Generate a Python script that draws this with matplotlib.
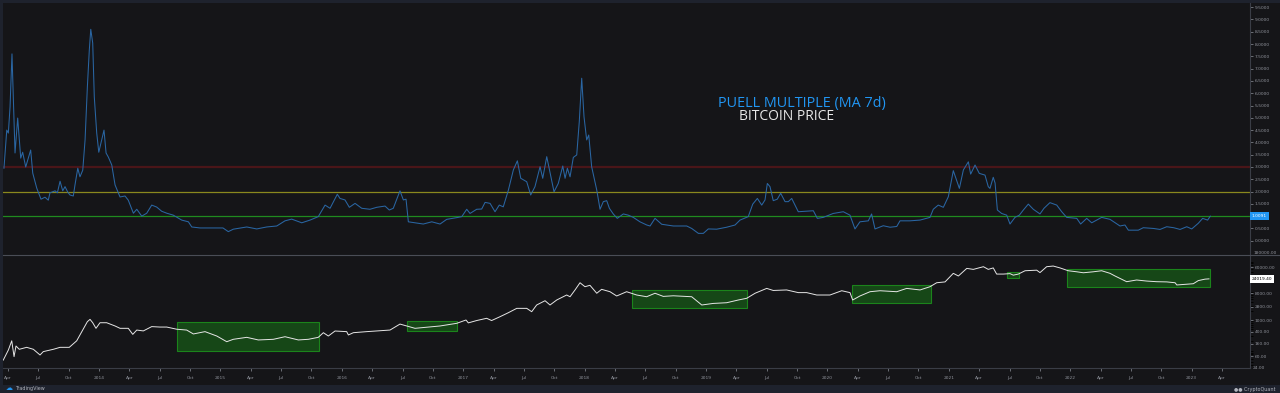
import matplotlib.pyplot as plt
from matplotlib.patches import Rectangle
from matplotlib.lines import Line2D
from matplotlib.ticker import FixedLocator, FixedFormatter, NullLocator

# puell multiple (ma 7d), time in decimal years
puell_t = [2013.217, 2013.240, 2013.253, 2013.267, 2013.283, 2013.308, 2013.330, 2013.355, 2013.371, 2013.396,
           2013.437, 2013.454, 2013.487, 2013.522, 2013.555, 2013.582, 2013.596, 2013.638, 2013.657, 2013.679,
           2013.701, 2013.720, 2013.742, 2013.761, 2013.788, 2013.802, 2013.825, 2013.843, 2013.866, 2013.885,
           2013.904, 2013.920, 2013.932, 2013.948, 2013.961, 2013.981, 2013.998, 2014.016, 2014.041, 2014.058,
           2014.077, 2014.105, 2014.132, 2014.173, 2014.214, 2014.241, 2014.283, 2014.311, 2014.352, 2014.393,
           2014.434, 2014.475, 2014.516, 2014.558, 2014.612, 2014.681, 2014.736, 2014.764, 2014.832, 2014.942,
           2015.021, 2015.065, 2015.106, 2015.217, 2015.299, 2015.381, 2015.464, 2015.532, 2015.587, 2015.670,
           2015.738, 2015.806, 2015.862, 2015.903, 2015.963, 2015.985, 2016.026, 2016.062, 2016.109, 2016.164,
           2016.232, 2016.288, 2016.356, 2016.391, 2016.424, 2016.479, 2016.507, 2016.529, 2016.548, 2016.603,
           2016.671, 2016.741, 2016.809, 2016.864, 2016.947, 2016.988, 2017.029, 2017.056, 2017.111, 2017.152,
           2017.180, 2017.221, 2017.262, 2017.297, 2017.330, 2017.372, 2017.413, 2017.446, 2017.474, 2017.523,
           2017.556, 2017.591, 2017.633, 2017.655, 2017.688, 2017.748, 2017.783, 2017.820, 2017.839, 2017.858,
           2017.880, 2017.907, 2017.935, 2017.956, 2017.976, 2017.995, 2018.017, 2018.034, 2018.058, 2018.100,
           2018.127, 2018.154, 2018.182, 2018.204, 2018.236, 2018.269, 2018.319, 2018.360, 2018.401, 2018.456,
           2018.512, 2018.539, 2018.580, 2018.635, 2018.731, 2018.841, 2018.882, 2018.937, 2018.978, 2019.019,
           2019.088, 2019.170, 2019.239, 2019.280, 2019.348, 2019.385, 2019.423, 2019.459, 2019.486, 2019.505,
           2019.527, 2019.554, 2019.587, 2019.615, 2019.651, 2019.678, 2019.706, 2019.760, 2019.816, 2019.884,
           2019.917, 2019.966, 2020.048, 2020.131, 2020.186, 2020.227, 2020.268, 2020.337, 2020.364, 2020.392,
           2020.460, 2020.516, 2020.571, 2020.598, 2020.680, 2020.763, 2020.845, 2020.872, 2020.913, 2020.955,
           2020.996, 2021.037, 2021.087, 2021.120, 2021.161, 2021.180, 2021.216, 2021.251, 2021.298, 2021.325,
           2021.339, 2021.366, 2021.381, 2021.400, 2021.435, 2021.477, 2021.504, 2021.545, 2021.581, 2021.614,
           2021.655, 2021.696, 2021.751, 2021.784, 2021.833, 2021.889, 2021.930, 2021.971, 2022.054, 2022.086,
           2022.136, 2022.177, 2022.259, 2022.328, 2022.410, 2022.451, 2022.479, 2022.561, 2022.602, 2022.685,
           2022.740, 2022.795, 2022.852, 2022.905, 2022.960, 2023.001, 2023.055, 2023.091, 2023.132, 2023.154]
puell_v = [2.95, 4.50, 4.38, 5.44, 7.60, 3.57, 4.99, 3.36, 3.60, 3.00,
           3.69, 2.75, 2.14, 1.69, 1.77, 1.65, 1.95, 2.03, 1.95, 2.42,
           2.03, 2.20, 1.98, 1.86, 1.82, 2.27, 2.95, 2.60, 2.87, 4.10,
           6.26, 7.76, 8.60, 8.04, 5.85, 4.38, 3.60, 3.97, 4.50, 3.57,
           3.40, 3.08, 2.27, 1.78, 1.82, 1.65, 1.12, 1.28, 1.00, 1.12,
           1.45, 1.37, 1.20, 1.12, 1.04, 0.84, 0.77, 0.56, 0.52, 0.52,
           0.52, 0.37, 0.47, 0.56, 0.48, 0.56, 0.60, 0.81, 0.88, 0.73,
           0.84, 0.98, 1.45, 1.32, 1.89, 1.72, 1.66, 1.36, 1.52, 1.32,
           1.28, 1.36, 1.41, 1.25, 1.32, 2.03, 1.66, 1.69, 0.77, 0.73,
           0.68, 0.77, 0.68, 0.87, 0.94, 0.98, 1.28, 1.11, 1.28, 1.29,
           1.56, 1.52, 1.18, 1.45, 1.38, 2.06, 2.88, 3.25, 2.54, 2.40,
           1.86, 2.20, 3.01, 2.54, 3.42, 1.99, 2.33, 3.04, 2.54, 2.95,
           2.60, 3.39, 3.49, 4.84, 6.61, 5.04, 4.10, 4.30, 3.01, 2.06,
           1.28, 1.59, 1.63, 1.32, 1.09, 0.91, 1.09, 1.04, 0.95, 0.77,
           0.64, 0.60, 0.91, 0.67, 0.60, 0.60, 0.50, 0.30, 0.30, 0.48,
           0.47, 0.55, 0.64, 0.84, 0.98, 1.49, 1.72, 1.45, 1.66, 2.33,
           2.20, 1.63, 1.69, 1.93, 1.59, 1.59, 1.72, 1.18, 1.20, 1.22,
           0.91, 0.95, 1.11, 1.18, 1.04, 0.48, 0.77, 0.81, 1.09, 0.48,
           0.61, 0.55, 0.58, 0.81, 0.81, 0.84, 0.95, 1.28, 1.45, 1.36,
           1.79, 2.85, 2.13, 2.88, 3.21, 2.71, 3.08, 2.74, 2.67, 2.20,
           2.13, 2.58, 2.35, 1.25, 1.11, 1.04, 0.68, 0.95, 1.04, 1.25,
           1.49, 1.28, 1.09, 1.32, 1.55, 1.45, 1.18, 0.95, 0.91, 0.68,
           0.91, 0.73, 0.95, 0.87, 0.60, 0.64, 0.43, 0.43, 0.53, 0.50,
           0.46, 0.57, 0.53, 0.46, 0.57, 0.48, 0.71, 0.91, 0.84, 1.00]

# bitcoin price (usd, log scale)
price_t = [2013.211, 2013.253, 2013.281, 2013.300, 2013.316, 2013.343, 2013.404, 2013.459, 2013.514, 2013.541,
           2013.624, 2013.679, 2013.755, 2013.816, 2013.866, 2013.904, 2013.926, 2013.948, 2013.975, 2014.008,
           2014.063, 2014.132, 2014.173, 2014.241, 2014.278, 2014.311, 2014.365, 2014.434, 2014.502, 2014.558,
           2014.640, 2014.722, 2014.777, 2014.873, 2014.970, 2015.052, 2015.106, 2015.217, 2015.312, 2015.436,
           2015.532, 2015.642, 2015.724, 2015.806, 2015.848, 2015.889, 2015.944, 2016.040, 2016.054, 2016.095,
           2016.205, 2016.397, 2016.479, 2016.535, 2016.603, 2016.699, 2016.809, 2016.947, 2017.023, 2017.042,
           2017.111, 2017.193, 2017.234, 2017.303, 2017.372, 2017.441, 2017.523, 2017.564, 2017.605, 2017.674,
           2017.715, 2017.770, 2017.852, 2017.880, 2017.921, 2017.962, 2018.003, 2018.044, 2018.100, 2018.140,
           2018.209, 2018.264, 2018.346, 2018.429, 2018.511, 2018.580, 2018.648, 2018.731, 2018.882, 2018.965,
           2019.060, 2019.170, 2019.266, 2019.335, 2019.404, 2019.500, 2019.554, 2019.664, 2019.760, 2019.829,
           2019.912, 2020.021, 2020.118, 2020.186, 2020.208, 2020.268, 2020.351, 2020.433, 2020.571, 2020.653,
           2020.763, 2020.845, 2020.900, 2020.969, 2021.037, 2021.079, 2021.148, 2021.202, 2021.285, 2021.325,
           2021.366, 2021.394, 2021.449, 2021.504, 2021.531, 2021.573, 2021.628, 2021.724, 2021.751, 2021.806,
           2021.860, 2021.916, 2021.984, 2022.054, 2022.108, 2022.190, 2022.259, 2022.328, 2022.369, 2022.465,
           2022.547, 2022.629, 2022.712, 2022.795, 2022.864, 2022.878, 2023.014, 2023.055, 2023.110, 2023.143]
price_v = [45, 98, 200, 59, 134, 104, 121, 104, 67, 87,
           104, 121, 121, 200, 460, 880, 1050, 810, 526, 810,
           810, 630, 526, 526, 330, 460, 430, 600, 580, 580,
           490, 460, 340, 407, 290, 187, 225, 262, 214, 225,
           275, 214, 225, 262, 375, 290, 427, 407, 315, 375,
           407, 460, 730, 630, 526, 570, 630, 775, 1000, 800,
           960, 1140, 960, 1290, 1760, 2460, 2460, 1900, 3190, 4440,
           3190, 4690, 6900, 6040, 10200, 17800, 13100, 14600, 7900, 10700,
           8900, 6400, 8900, 6900, 6040, 7900, 6200, 6500, 6040, 3190,
           3600, 3800, 4690, 5350, 7900, 11500, 9800, 10200, 8300, 8300,
           6900, 6900, 9600, 8300, 4690, 6400, 8900, 9600, 8900, 11500,
           10200, 13100, 17800, 19000, 36800, 30000, 54000, 50000, 61500, 50000,
           56000, 34800, 34800, 36000, 32000, 34800, 45000, 47000, 39000, 61500,
           64700, 56000, 45000, 41500, 38500, 41500, 45000, 36800, 30000, 19300,
           22000, 20300, 19300, 19000, 17800, 15000, 16500, 21000, 23500, 24019.40]

# accumulation boxes on the price pane
box_start = [2014.64, 2016.54, 2018.39, 2020.20, 2021.48, 2021.97]
box_end = [2015.815, 2016.95, 2019.34, 2020.85, 2021.575, 2023.15]
box_low = [91, 416, 2470, 3800, 25000, 12500]
box_high = [837, 904, 9900, 14900, 39800, 50400]

# reference levels of the puell multiple
levels = [3.0, 2.0, 1.0]
level_colors = ['#4a1518', '#8a881e', '#1f8a1f']
level_widths = [1.6, 0.9, 0.9]

# 1.0000 sits under the last-value tag, so it is left out
puell_ticks = [0.0, 0.5, 1.5, 2.0, 2.5, 3.0, 3.5, 4.0, 4.5, 5.0,
               5.5, 6.0, 6.5, 7.0, 7.5, 8.0, 8.5, 9.0, 9.5]
price_ticks = [60, 160, 400, 1000, 2800, 8000, 60000]
price_edge_ticks = [24, 180000]
puell_last = 1.0091
price_last = 24019.40

BG_OUT = '#1e222d'
BG = '#151518'
AXIS = '#3a3d46'
TXT = '#8f929b'


def time_ticks():
    pos, lab = [], []
    for y in range(2013, 2024):
        for off, name in [(0.0, str(y)), (0.25, 'Apr'), (0.5, 'Jul'), (0.75, 'Oct')]:
            t = y + off
            if 2013.2 < t < 2023.3:
                pos.append(t)
                lab.append(name)
    return pos, lab


def style_axis(ax):
    ax.set_facecolor(BG)
    for s in ['top', 'left', 'bottom']:
        ax.spines[s].set_visible(False)
    ax.spines['right'].set_color(AXIS)
    ax.spines['right'].set_linewidth(0.8)
    ax.yaxis.tick_right()
    ax.tick_params(axis='y', colors=TXT, labelsize=3.2, length=2, width=0.5, pad=1.5)
    ax.yaxis.set_minor_locator(NullLocator())
    ax.set_xlim(2013.209, 2023.481)


def main():
    fig = plt.figure(figsize=(12.8, 3.93), dpi=100, facecolor=BG_OUT)
    W, H = 1280, 393
    # dark chart panel
    fig.add_artist(Rectangle((3 / W, 8 / H), 1 - 3 / W, (H - 11) / H, transform=fig.transFigure,
                             facecolor=BG, edgecolor='none', zorder=0))

    ax1 = fig.add_axes([3 / W, 1 - 255 / H, 1247 / W, 252 / H])
    ax2 = fig.add_axes([3 / W, 1 - 368 / H, 1247 / W, 112 / H])
    style_axis(ax1)
    style_axis(ax2)

    # top pane: puell multiple
    for lv, c, lw in zip(levels, level_colors, level_widths):
        ax1.axhline(lv, color=c, lw=lw, zorder=1)
    ax1.plot(puell_t, puell_v, color='#2a66a3', lw=0.75, zorder=2)
    ax1.set_ylim(-0.58, 9.67)
    ax1.yaxis.set_major_locator(FixedLocator(puell_ticks))
    ax1.yaxis.set_major_formatter(FixedFormatter(['%.4f' % v for v in puell_ticks]))
    ax1.tick_params(axis='x', bottom=False, labelbottom=False)
    ax1.text(1.0015, puell_last, '%.4f' % puell_last, transform=ax1.get_yaxis_transform(),
             ha='left', va='center', fontsize=3.2, color='white',
             bbox=dict(facecolor='#2196f3', edgecolor='none', pad=1.2))

    ax1.text(0.6405, 0.6, 'PUELL MULTIPLE (MA 7d)', transform=ax1.transAxes, ha='center', va='center',
             fontsize=10.4, color='#2196f3', family='Open Sans')
    ax1.text(0.6285, 0.548, 'BITCOIN PRICE', transform=ax1.transAxes, ha='center', va='center',
             fontsize=10, color='#e8e8e8', family='Open Sans')

    # bottom pane: bitcoin price on log scale
    ax2.set_yscale('log')
    ax2.set_ylim(24.5, 140600)
    for t0, t1, lo, hi in zip(box_start, box_end, box_low, box_high):
        ax2.add_patch(Rectangle((t0, lo), t1 - t0, hi - lo, facecolor='#174a17', edgecolor='#1c8a1c',
                                lw=0.8, alpha=0.95, zorder=1))
    ax2.plot(price_t, price_v, color='#e6e6e6', lw=0.7, zorder=2)
    ax2.yaxis.set_major_locator(FixedLocator(price_ticks))
    ax2.yaxis.set_major_formatter(FixedFormatter(['%.2f' % v for v in price_ticks]))
    for v in price_edge_ticks:
        ax2.text(1.0025, v, '%.2f' % v, transform=ax2.get_yaxis_transform(), ha='left', va='center',
                 fontsize=3.2, color=TXT, clip_on=False)
    ax2.text(1.0015, price_last, '%.2f' % price_last, transform=ax2.get_yaxis_transform(),
             ha='left', va='center', fontsize=3.2, color='black',
             bbox=dict(facecolor='white', edgecolor='none', pad=1.2))

    ax2.spines['bottom'].set_visible(True)
    ax2.spines['bottom'].set_color(AXIS)
    ax2.spines['bottom'].set_linewidth(0.8)
    pos, lab = time_ticks()
    ax2.set_xticks(pos)
    ax2.set_xticklabels(lab)
    ax2.tick_params(axis='x', colors=TXT, labelsize=3.2, length=2, width=0.5, pad=4)

    # pane separator
    fig.add_artist(Line2D([3 / W, 1], [1 - 255.5 / H, 1 - 255.5 / H], transform=fig.transFigure,
                          color='#4a4d56', lw=0.8))

    # footer logos
    fig.text(6 / W, 1 - 388.5 / H, '\u2601', fontsize=5, color='#2196f3', ha='left', va='center',
             family='DejaVu Sans')
    fig.text(15 / W, 1 - 388.5 / H, 'TradingView', fontsize=3.5, color='#b2b5be', ha='left', va='center')
    fig.text(1276 / W, 1 - 389 / H, '\u25cf\u25cf CryptoQuant', fontsize=3.5, color='#b2b5be',
             ha='right', va='center')

    fig.savefig('out.png', dpi=100, facecolor=BG_OUT)


if __name__ == "__main__":
    main()
